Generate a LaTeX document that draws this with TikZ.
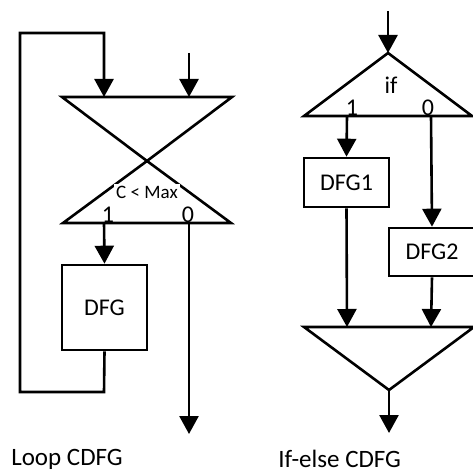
\documentclass[tikz,border=0pt]{standalone}
\usepackage{fontspec}
\setmainfont{Carlito}
\usetikzlibrary{arrows.meta}
\begin{document}
\begin{tikzpicture}[x=1pt,y=-1pt,line width=2.6pt,
  flow/.style={-{Triangle[length=18pt,width=19pt]}},
  block/.style={draw,rectangle,inner sep=0pt,font=\fontsize{24}{26}\selectfont},
  lbl/.style={inner sep=0pt,font=\fontsize{24}{26}\selectfont},
  caption/.style={inner sep=0pt,anchor=west,font=\fontsize{25}{28}\selectfont},
  tri/.style={draw,line join=miter}]
\useasboundingbox[fill=white] (0,0) rectangle (472,473);

% ---------- loop CDFG ----------
\coordinate (mL) at (62,97);
\coordinate (mR) at (232,97);
\coordinate (mX) at (147,161);
\coordinate (bL) at (63,223);
\coordinate (bR) at (231,223);
\draw[tri] (mL) -- (mR) -- (mX) -- cycle;
\draw[tri] (mX) -- (bL) -- (bR) -- cycle;
\node[lbl,fill=white,inner sep=2pt,font=\fontsize{19}{21}\selectfont] (cond) at (147,192) {C < Max};

\node[block,minimum width=85pt,minimum height=85pt] (dfg) at (104.5,307.5) {DFG};

\coordinate (in2) at (189,53);
\coordinate (in2end) at (189,97);
\coordinate (t1) at (104,223);
\coordinate (t0) at (189,223);
\coordinate (exit) at (189,434);
\coordinate (lb1) at (104,392);
\coordinate (lb2) at (20,392);
\coordinate (lb3) at (20,33);
\coordinate (lb4) at (104,33);
\coordinate (lb5) at (104,97);

\draw[flow] (in2) -- (in2end);
\draw[flow] (dfg.south) -- (lb1) -- (lb2) -- (lb3) -- (lb4) -- (lb5);
\draw[flow] (t1) -- (dfg.north);
\draw[flow] (t0) -- (exit);

\node[lbl] (one) at (108,215) {1};
\node[lbl] (zero) at (188,215) {0};
\node[caption] (capL) at (10,459) {Loop CDFG};

% ---------- if-else CDFG ----------
\coordinate (ifA) at (388,53);
\coordinate (ifL) at (304,116);
\coordinate (ifR) at (472,116);
\coordinate (ifIn) at (388,11);
\draw[tri] (ifA) -- (ifL) -- (ifR) -- cycle;
\draw[flow] (ifIn) -- (ifA);
\node[lbl] (cif) at (391,85) {if};
\node[lbl] (ione) at (352,108) {1};
\node[lbl] (izero) at (428,108) {0};

\node[block,minimum width=85pt,minimum height=49pt] (dfg1) at (346.5,182.5) {DFG1};
\node[block,minimum width=86pt,minimum height=48pt] (dfg2) at (432,252) {DFG2};

\coordinate (s1) at (347,116);
\coordinate (s0) at (431,116);
\coordinate (jL) at (304,327);
\coordinate (jR) at (474,327);
\coordinate (jA) at (389,390);
\coordinate (j1) at (347,327);
\coordinate (j0) at (431,327);
\coordinate (out) at (389,433);

\draw[tri] (jL) -- (jR) -- (jA) -- cycle;
\draw[flow] (s1) -- (dfg1.north);
\draw[flow] (s0) -- (dfg2.north);
\draw[flow] (dfg1.south) -- (j1);
\draw[flow] (dfg2.south) -- (j0);
\draw[flow] (jA) -- (out);

\node[caption] (capR) at (277,459) {If-else CDFG};
\end{tikzpicture}
\end{document}
